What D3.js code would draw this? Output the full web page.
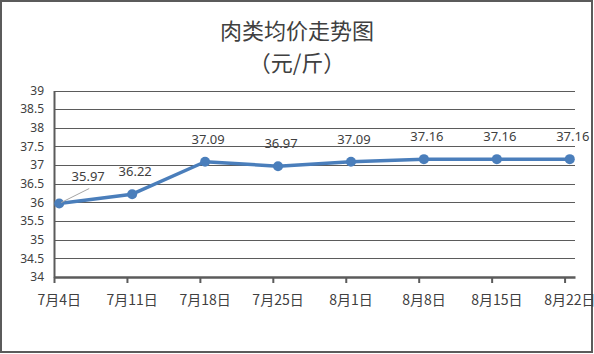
<!DOCTYPE html>
<html>
<head>
<meta charset="utf-8">
<script src="https://cdn.jsdelivr.net/npm/d3@7"></script>
<style>
  body { margin: 0; background: #fff; }
  svg { display: block; font-family: "Noto Sans CJK SC", "Noto Sans", sans-serif; }
</style>
</head>
<body>
<svg id="chart" width="594" height="354"></svg>
<script>
// chart data
const dates = ['2022-07-04', '2022-07-11', '2022-07-18', '2022-07-25', '2022-08-01', '2022-08-08', '2022-08-15', '2022-08-22'];
const dateLabels = ['7月4日', '7月11日', '7月18日', '7月25日', '8月1日', '8月8日', '8月15日', '8月22日'];
const prices = [35.97, 36.22, 37.09, 36.97, 37.09, 37.16, 37.16, 37.16];
const yTicks = [34, 34.5, 35, 35.5, 36, 36.5, 37, 37.5, 38, 38.5, 39];
const titleLines = ['肉类均价走势图', '（元/斤）'];

const svg = d3.select('#chart');
const lineColor = '#4a7ebb';
const gridColor = '#5b5b5b';
const textColor = '#404040';

const parse = d3.timeParse('%Y-%m-%d');
const points = dates.map((d, i) => ({ date: parse(d), label: dateLabels[i], value: prices[i] }));

// date axis: one slot per day, points sit in the middle of their day
const x = d3.scaleTime()
    .domain([points[0].date, d3.timeDay.offset(points[points.length - 1].date, 1)])
    .range([54, 575]);
const mid = d => d3.timeHour.offset(d, 12);
const y = d3.scaleLinear().domain([34, 39]).range([277, 90.5]);

// outer frame
svg.append('rect')
    .attr('x', 1).attr('y', 1)
    .attr('width', 591).attr('height', 351)
    .attr('fill', '#fff')
    .attr('stroke', gridColor)
    .attr('stroke-width', 2);

// title, two lines
svg.append('g').selectAll('text')
    .data(titleLines)
    .join('text')
    .attr('x', 297)
    .attr('y', (d, i) => 39 + i * 32)
    .attr('text-anchor', 'middle')
    .attr('font-size', 22)
    .attr('fill', textColor)
    .text(d => d);

// horizontal gridlines
svg.append('g')
    .selectAll('line')
    .data(yTicks.slice(1))
    .join('line')
    .attr('x1', 54).attr('x2', 575)
    .attr('y1', d => Math.round(y(d)) + 0.5)
    .attr('y2', d => Math.round(y(d)) + 0.5)
    .attr('stroke', gridColor)
    .attr('stroke-width', 1);

// y axis
const yAxis = svg.append('g')
    .attr('transform', 'translate(54,0)')
    .call(d3.axisLeft(y).tickValues(yTicks).tickSize(0).tickPadding(10).tickFormat(d3.format('')));
yAxis.select('.domain').attr('stroke', gridColor).attr('stroke-width', 2);
yAxis.selectAll('text').attr('font-family', '"Noto Sans", sans-serif').attr('font-size', 12).attr('fill', textColor);

// x axis
const xAxis = svg.append('g')
    .attr('transform', 'translate(0,277)')
    .call(d3.axisBottom(x).tickValues(points.map(p => p.date)).tickSize(6).tickSizeOuter(0).tickFormat(''));
xAxis.select('.domain').attr('stroke', gridColor).attr('stroke-width', 2.5);
xAxis.selectAll('.tick line').attr('stroke', gridColor).attr('stroke-width', 2);

svg.append('g')
    .selectAll('text')
    .data(points)
    .join('text')
    .attr('x', d => x(mid(d.date)))
    .attr('y', 305)
    .attr('text-anchor', 'middle')
    .attr('font-size', 14)
    .attr('fill', textColor)
    .text(d => d.label);

// series line
const line = d3.line()
    .x(d => x(mid(d.date)))
    .y(d => y(d.value));

svg.append('path')
    .datum(points)
    .attr('d', line)
    .attr('fill', 'none')
    .attr('stroke', lineColor)
    .attr('stroke-width', 3.5)
    .attr('stroke-linejoin', 'round');

svg.append('g')
    .selectAll('circle')
    .data(points)
    .join('circle')
    .attr('cx', d => x(mid(d.date)))
    .attr('cy', d => y(d.value))
    .attr('r', 5)
    .attr('fill', lineColor);

// first label was dragged aside in the original, so it gets a leader line
const p0 = points[0];
svg.append('line')
    .attr('x1', x(mid(p0.date)) + 2).attr('y1', y(p0.value) - 1)
    .attr('x2', x(mid(p0.date)) + 30).attr('y2', y(p0.value) - 15)
    .attr('stroke', '#a6a6a6')
    .attr('stroke-width', 1);

svg.append('g')
    .selectAll('text')
    .data(points)
    .join('text')
    .attr('x', (d, i) => x(mid(d.date)) + (i === 0 ? 29 : 3))
    .attr('y', (d, i) => i === 0 ? y(d.value) - 23 : y(d.value) - 18)
    .attr('text-anchor', 'middle')
    .attr('font-family', '"Noto Sans", sans-serif')
    .attr('font-size', 13)
    .attr('fill', textColor)
    .text(d => d.value.toFixed(2));
</script>
</body>
</html>
